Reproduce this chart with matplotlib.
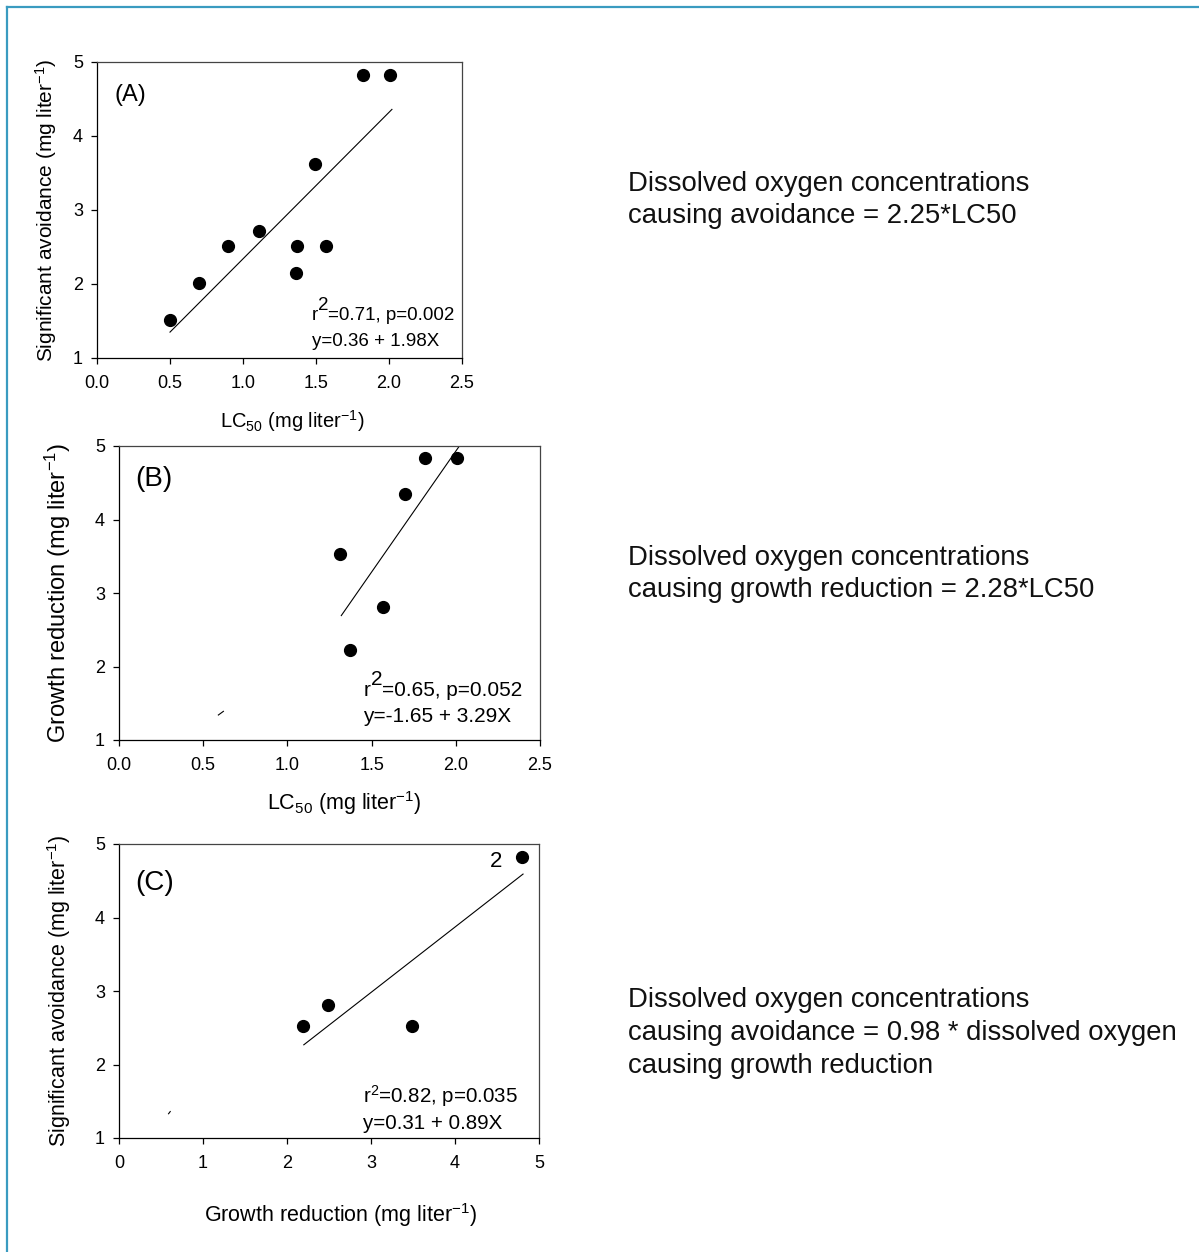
import numpy as np
import matplotlib
matplotlib.use("Agg")
import matplotlib.pyplot as plt
from matplotlib.lines import Line2D

plt.rcParams['font.family'] = ['Liberation Sans', 'DejaVu Sans']
plt.rcParams['mathtext.fontset'] = 'custom'
plt.rcParams['mathtext.rm'] = 'Liberation Sans'
plt.rcParams['mathtext.it'] = 'Liberation Sans:italic'

# panel A: LC50 vs significant avoidance
a_x = [0.50, 0.70, 0.90, 1.11, 1.36, 1.37, 1.49, 1.57, 1.82, 2.01]
a_y = [1.52, 2.02, 2.52, 2.72, 2.15, 2.52, 3.62, 2.52, 4.83, 4.83]
a_fit = (0.36, 1.98, 0.50, 2.02)   # intercept, slope, x from, x to

# panel B: LC50 vs growth reduction
b_x = [1.31, 1.37, 1.57, 1.70, 1.82, 2.01]
b_y = [3.53, 2.22, 2.81, 4.35, 4.83, 4.83]
b_fit = (-1.65, 3.29, 1.32, 2.02)

# panel C: growth reduction vs significant avoidance
c_x = [2.19, 2.49, 3.49, 4.80]
c_y = [2.52, 2.81, 2.52, 4.82]
c_fit = (0.31, 0.89, 2.20, 4.81)

ylab_a = 'Significant avoidance (mg liter$^{-1}$)'
ylab_b = 'Growth reduction (mg liter$^{-1}$)'
xlab_lc = 'LC$_{50}$ (mg liter$^{-1}$)'
xlab_c = 'Growth reduction (mg liter$^{-1}$)'

side_text = [
    'Dissolved oxygen concentrations\ncausing avoidance = 2.25*LC50',
    'Dissolved oxygen concentrations\ncausing growth reduction = 2.28*LC50',
    'Dissolved oxygen concentrations\ncausing avoidance = 0.98 * dissolved oxygen\ncausing growth reduction',
]
side_y = [200, 574, 1033]   # vertical centre of each note, px from top

fig = plt.figure(figsize=(11.99, 12.52), dpi=100)

# frame lines (left and top only)
fig.add_artist(Line2D([6.5/1199, 6.5/1199], [0, 1 - 6.5/1252], color='#3A9BC0', lw=1.6))
fig.add_artist(Line2D([6.5/1199, 1], [1 - 6.5/1252, 1 - 6.5/1252], color='#3A9BC0', lw=1.6))


def style(ax, xlim, xticks, xfmt):
    ax.set_xlim(*xlim)
    ax.set_ylim(1, 5)
    ax.set_xticks(xticks)
    ax.set_xticklabels([xfmt.format(t) for t in xticks])
    ax.set_yticks([1, 2, 3, 4, 5])
    ax.tick_params(direction='out', length=4, width=0.9, labelsize=13, pad=6,
                   top=False, right=False)
    ax.tick_params(axis='x', pad=8)
    for s in ax.spines.values():
        s.set_linewidth(0.9)
    ax.spines['top'].set_color('#444444')
    ax.spines['right'].set_color('#444444')


def panel(ax, x, y, fit):
    b0, b1, x0, x1 = fit
    xs = np.array([x0, x1])
    ax.plot(xs, b0 + b1 * xs, color='black', lw=0.8, clip_on=True)
    ax.plot(x, y, 'o', color='black', markersize=8.5, clip_on=False, zorder=3)


def stats(ax, x, y, r2_text, eq_text, fs, big_sup=True):
    k = fs / 14.0
    if big_sup:
        ax.annotate('r', (x, y), fontsize=fs, va='baseline')
        ax.annotate('2', (x, y), xytext=(5 * k, 7 * k), textcoords='offset points',
                    fontsize=fs, va='baseline')
        ax.annotate(r2_text, (x, y), xytext=(12.5 * k, 0), textcoords='offset points',
                    fontsize=fs, va='baseline')
    else:
        ax.annotate('r$^2$' + r2_text, (x, y), fontsize=fs, va='baseline')
    ax.annotate(eq_text, (x, y), xytext=(0, -19), textcoords='offset points',
                fontsize=fs, va='baseline')


# (A)
axA = fig.add_axes([97/1199, 1 - 358/1252, 365/1199, 296/1252])
style(axA, (0, 2.5), [0, 0.5, 1.0, 1.5, 2.0, 2.5], '{:.1f}')
panel(axA, a_x, a_y, a_fit)
axA.text(0.12, 4.55, '(A)', fontsize=17, va='center')
stats(axA, 1.47, 1.52, '=0.71, p=0.002', 'y=0.36 + 1.98X', 13.5)
axA.set_ylabel(ylab_a, fontsize=15, labelpad=10)
axA.set_xlabel(xlab_lc, fontsize=14.5, labelpad=12)
axA.xaxis.label.set_x(0.5 + 13/365)

# (B)
axB = fig.add_axes([119/1199, 1 - 740/1252, 421/1199, 294/1252])
style(axB, (0, 2.5), [0, 0.5, 1.0, 1.5, 2.0, 2.5], '{:.1f}')
panel(axB, b_x, b_y, b_fit)
axB.plot([0.59, 0.62], [1.34, 1.39], color='black', lw=0.8)
axB.text(0.095, 4.55, '(B)', fontsize=20, va='center')
stats(axB, 1.45, 1.6, '=0.65, p=0.052', 'y=-1.65 + 3.29X', 15)
axB.set_ylabel(ylab_b, fontsize=17, labelpad=16)
axB.set_xlabel(xlab_lc, fontsize=15.5, labelpad=11)
axB.xaxis.label.set_x(0.5 + 15/421)

# (C)
axC = fig.add_axes([119/1199, 1 - 1138/1252, 420/1199, 294/1252])
style(axC, (0, 5), [0, 1, 2, 3, 4, 5], '{:d}')
panel(axC, c_x, c_y, c_fit)
axC.plot([0.59, 0.61], [1.33, 1.36], color='black', lw=0.8)
axC.text(0.19, 4.47, '(C)', fontsize=20, va='center')
axC.text(4.42, 4.76, '2', fontsize=16, va='center')
stats(axC, 2.9, 1.48, '=0.82, p=0.035', 'y=0.31 + 0.89X', 14.8, big_sup=False)
axC.set_ylabel(ylab_a, fontsize=15.5, labelpad=16)
axC.set_xlabel(xlab_c, fontsize=15.5, labelpad=21)
axC.xaxis.label.set_x(0.5 + 12/420)

# side notes
for txt, yc in zip(side_text, side_y):
    fig.text(628/1199, 1 - yc/1252, txt, fontsize=19.8,
             va='center', ha='left', linespacing=1.33, color='#111111')

fig.savefig('out.png', dpi=100)
